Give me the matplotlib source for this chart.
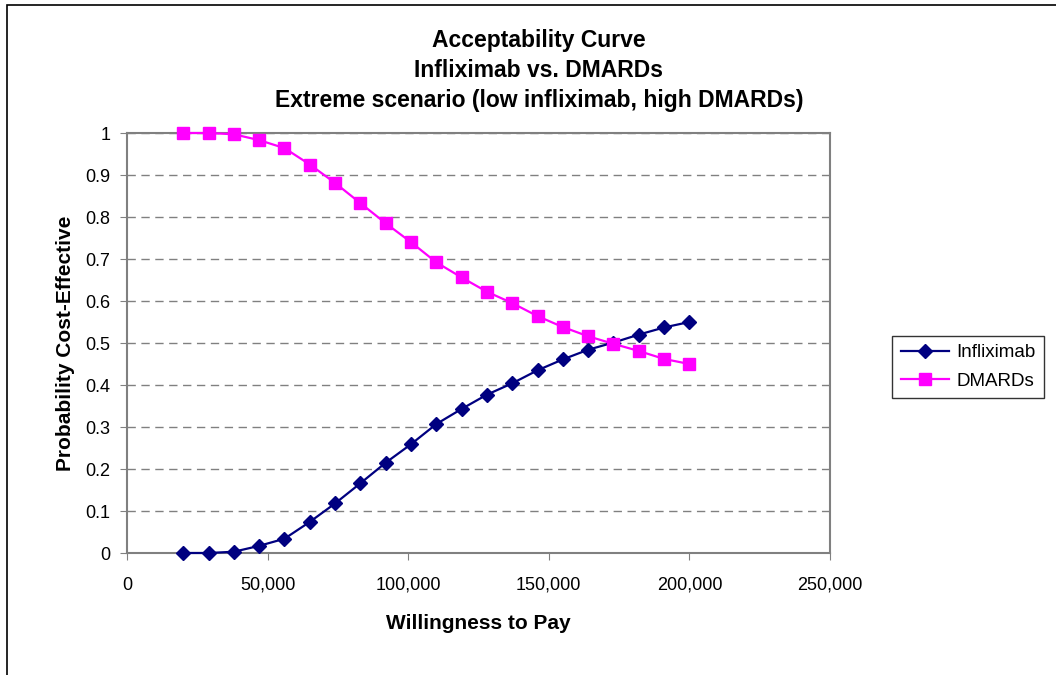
import matplotlib
matplotlib.use('Agg')
import matplotlib.pyplot as plt
import matplotlib.patches as patches
from matplotlib.ticker import FuncFormatter

plt.rcParams['font.family'] = ['Liberation Sans', 'DejaVu Sans']

# data
wtp = [20000, 29000, 38000, 47000, 56000, 65000, 74000, 83000, 92000, 101000, 110000,
       119000, 128000, 137000, 146000, 155000, 164000, 173000, 182000, 191000, 200000]
infliximab = [0.0, 0.0, 0.003, 0.017, 0.034, 0.074, 0.118, 0.166, 0.215, 0.259, 0.307,
              0.343, 0.377, 0.404, 0.435, 0.461, 0.484, 0.501, 0.520, 0.537, 0.550]
dmards = [1.0, 1.0, 0.997, 0.983, 0.964, 0.925, 0.881, 0.833, 0.785, 0.740, 0.692,
          0.656, 0.622, 0.595, 0.564, 0.538, 0.516, 0.498, 0.481, 0.462, 0.450]
series_names = ['Infliximab', 'DMARDs']
title_lines = ['Acceptability Curve', 'Infliximab vs. DMARDs',
               'Extreme scenario (low infliximab, high DMARDs)']

W, H = 1056, 675
fig = plt.figure(figsize=(W / 100, H / 100), dpi=100)

# outer chart frame (right/bottom run off the picture)
frame = patches.Rectangle((7 / W, -0.2), 1.2, 1.2 - 5 / H, transform=fig.transFigure,
                          fill=False, edgecolor='black', linewidth=1.2, clip_on=False)
fig.add_artist(frame)

ax = fig.add_axes([127 / W, 1 - 553 / H, (830 - 127) / W, (553 - 133) / H])

ax.plot(wtp, infliximab, color='#000080', marker='D', markersize=7.5, linewidth=1.6,
        label=series_names[0], clip_on=False, zorder=3)
ax.plot(wtp, dmards, color='#FF00FF', marker='s', markersize=8, linewidth=1.6,
        label=series_names[1], clip_on=False, zorder=3)

ax.set_xlim(0, 250000)
ax.set_ylim(0, 1)
ax.set_xticks([0, 50000, 100000, 150000, 200000, 250000])
ax.set_yticks([i / 10 for i in range(11)])
ax.xaxis.set_major_formatter(FuncFormatter(lambda v, p: f'{int(v):,}'))
ax.yaxis.set_major_formatter(FuncFormatter(lambda v, p: f'{v:g}'))

for s in ax.spines.values():
    s.set_color('#808080')
    s.set_linewidth(1.5)
ax.tick_params(axis='both', direction='out', length=5, color='#808080',
               labelsize=13, labelcolor='black')
ax.tick_params(axis='x', pad=12)
ax.tick_params(axis='y', pad=7)

ax.yaxis.grid(True, color='#808080', linestyle=(0, (6, 4)), linewidth=1)
ax.set_axisbelow(True)

ax.set_xlabel('Willingness to Pay', fontsize=15, fontweight='bold', labelpad=15)
ax.set_ylabel('Probability Cost-Effective', fontsize=15, fontweight='bold', labelpad=7)

for i, line in enumerate(title_lines):
    fig.text(539 / W, 1 - (40 + 30.5 * i) / H, line, ha='center', va='center',
             fontsize=16.5, fontweight='bold')

leg = fig.legend(loc='center', bbox_to_anchor=(968 / W, 1 - 367 / H), fontsize=13.5,
                 frameon=True, fancybox=False, edgecolor='black', handlelength=2.6,
                 handletextpad=0.35, borderpad=0.45, labelspacing=0.6,
                 borderaxespad=0)
leg.get_frame().set_linewidth(1)

fig.savefig('out.png', dpi=100)
